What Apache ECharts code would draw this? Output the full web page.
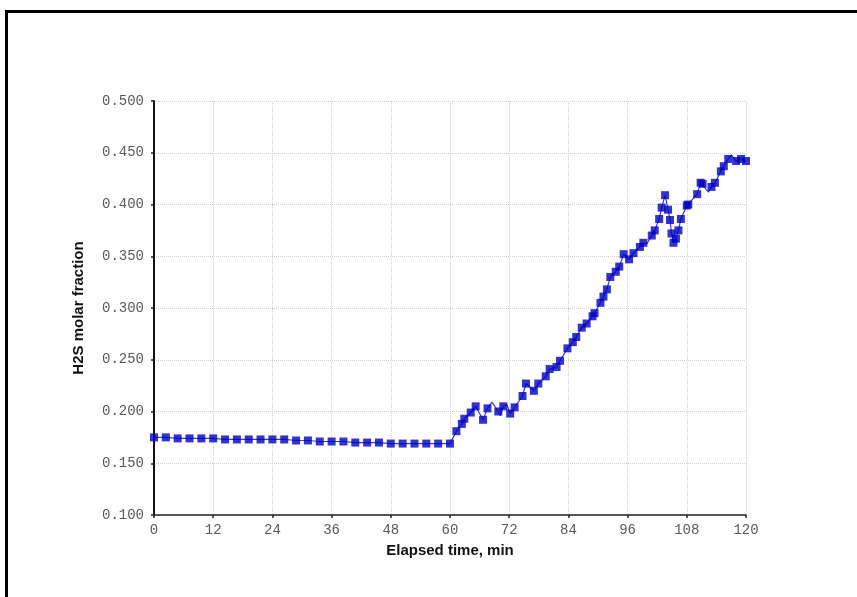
<!DOCTYPE html>
<html>
<head>
<meta charset="utf-8">
<script src="https://cdn.jsdelivr.net/npm/echarts@6/dist/echarts.min.js"></script>
<style>
html,body{margin:0;padding:0;background:#fff;}
#chart{width:857px;height:597px;}
</style>
</head>
<body>
<div id="chart"></div>
<script>
// Marker points (elapsed time, min ; H2S molar fraction)
const markerTimes = [
  0, 2.4, 4.8, 7.2, 9.6, 12, 14.4, 16.8, 19.2, 21.6, 24, 26.4, 28.8, 31.2, 33.6, 36, 38.4, 40.8, 43.2, 45.6, 48, 50.4, 52.8, 55.2, 57.6, 60,
  61.3, 62.4, 62.9, 64.2, 65.2, 66.7, 67.6, 69.8, 70.8, 72.2, 73.1, 74.7, 75.4, 77.0, 77.9, 79.4, 80.2, 81.6, 82.3, 83.8,
  84.9, 85.6, 86.7, 87.7, 88.9, 89.3, 90.5, 91.1, 91.8, 92.5, 93.6, 94.3, 95.2, 96.3, 97.2, 98.5, 99.2, 100.9, 101.5,
  102.4, 102.9, 103.6, 104.2, 104.6, 104.9, 105.3, 105.8, 106.3, 106.8, 108.0, 108.3, 110.1, 110.8, 111.2, 113.0, 113.7,
  114.9, 115.5, 116.4, 118.0, 119.0, 120.0
];
const markerValues = [
  0.175, 0.175, 0.174, 0.174, 0.174, 0.174, 0.173, 0.173, 0.173, 0.173, 0.173, 0.173, 0.172, 0.172, 0.171, 0.171, 0.171, 0.170, 0.170, 0.170, 0.169, 0.169, 0.169, 0.169, 0.169, 0.169,
  0.181, 0.188, 0.193, 0.199, 0.205, 0.192, 0.203, 0.200, 0.205, 0.198, 0.204, 0.215, 0.227, 0.220, 0.227, 0.234, 0.241, 0.243, 0.249, 0.261,
  0.267, 0.272, 0.281, 0.285, 0.292, 0.295, 0.305, 0.311, 0.318, 0.330, 0.335, 0.340, 0.352, 0.347, 0.353, 0.359, 0.363, 0.370, 0.375,
  0.386, 0.397, 0.409, 0.395, 0.385, 0.372, 0.363, 0.367, 0.375, 0.386, 0.399, 0.400, 0.410, 0.421, 0.420, 0.417, 0.421,
  0.432, 0.437, 0.444, 0.442, 0.444, 0.442
];
// Extra line vertices between markers (unmarked wiggles)
const wiggleTimes = [68.5, 70.2, 71.5, 99.9, 112.4, 117.0];
const wiggleValues = [0.209, 0.196, 0.207, 0.362, 0.412, 0.448];

const xTicks = [0, 12, 24, 36, 48, 60, 72, 84, 96, 108, 120];
const yTicks = [0.100, 0.150, 0.200, 0.250, 0.300, 0.350, 0.400, 0.450, 0.500];

const xTitle = 'Elapsed time, min';
const yTitle = 'H2S molar fraction';

const markerData = markerTimes.map((t, i) => [t, markerValues[i]]);
const lineData = markerData.concat(wiggleTimes.map((t, i) => [t, wiggleValues[i]]))
  .sort((a, b) => a[0] - b[0]);

const chart = echarts.init(document.getElementById('chart'), null, {renderer: 'canvas'});
const labelFont = {fontFamily: 'Liberation Mono', fontSize: 14, color: '#5a5a5a'};
const gridLine = {show: true, lineStyle: {color: '#d0d0d0', type: 'dotted', width: 1}};
chart.setOption({
  animation: false,
  backgroundColor: '#fff',
  graphic: [{
    type: 'rect', silent: true,
    shape: {x: 6.5, y: 11.5, width: 900, height: 700},
    style: {fill: 'none', stroke: '#000', lineWidth: 3}
  }],
  grid: {left: 154, right: 111, top: 101, bottom: 82, containLabel: false},
  xAxis: {
    type: 'value', min: xTicks[0], max: xTicks[xTicks.length - 1], interval: 12,
    name: xTitle, nameLocation: 'middle', nameGap: 28,
    nameTextStyle: {fontFamily: 'Liberation Sans', fontWeight: 'bold', fontSize: 15, color: '#111'},
    axisLine: {show: true, onZero: false, lineStyle: {color: '#222', width: 1.5}},
    axisTick: {show: true, length: 3, lineStyle: {color: '#222', width: 1.5}},
    axisLabel: Object.assign({margin: 8}, labelFont),
    splitLine: gridLine
  },
  yAxis: {
    type: 'value', min: yTicks[0], max: yTicks[yTicks.length - 1], interval: 0.05,
    name: yTitle, nameLocation: 'middle', nameGap: 68, nameRotate: 90,
    nameTextStyle: {fontFamily: 'Liberation Sans', fontWeight: 'bold', fontSize: 15, color: '#111'},
    axisLine: {show: true, onZero: false, lineStyle: {color: '#111', width: 2}},
    axisTick: {show: true, length: 3, lineStyle: {color: '#222', width: 1.5}},
    axisLabel: Object.assign({margin: 10, formatter: v => v.toFixed(3)}, labelFont),
    splitLine: gridLine
  },
  series: [
    {
      type: 'line', data: lineData, showSymbol: false, symbol: 'none',
      lineStyle: {color: '#3a3ad0', width: 1.2}, z: 2
    },
    {
      type: 'scatter', data: markerData, symbol: 'rect', symbolSize: 8,
      itemStyle: {color: '#0000c0'}, z: 3
    }
  ]
});
</script>
</body>
</html>
